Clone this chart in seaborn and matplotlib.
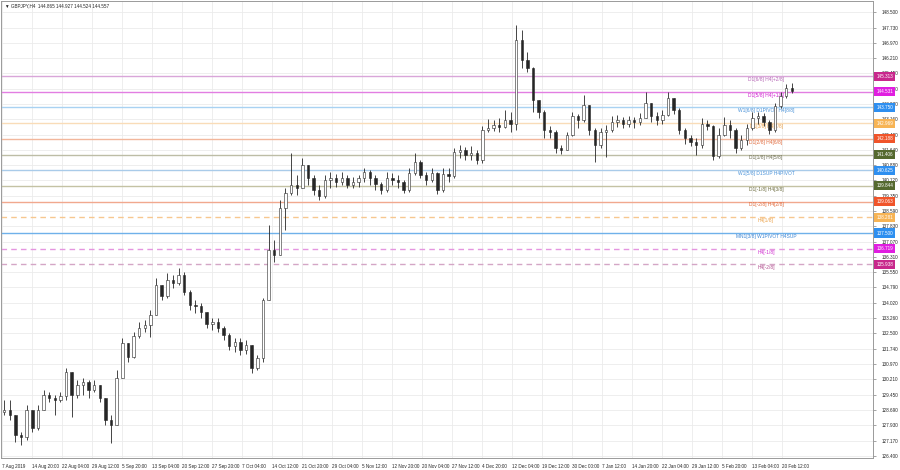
import numpy as np
import matplotlib
matplotlib.use("Agg")
import matplotlib.pyplot as plt
import matplotlib.transforms as mtransforms
import seaborn as sns


# chart header (last H4 bar OHLC)
title_text = "GBPJPY,H4  144.865 144.927 144.524 144.557"

# daily candles, 7 Aug 2019 .. 21 Feb 2020
first_open = 128.60
closes = [128.69, 128.44, 127.45, 127.35, 128.69, 127.80, 128.69, 129.44, 129.29, 129.19,
          129.39, 130.58, 129.44, 129.94, 130.09, 129.69, 129.94, 129.29, 128.19, 127.94,
          130.28, 132.03, 131.33, 132.37, 132.77, 132.92, 133.42, 134.91, 134.37, 135.16,
          135.01, 135.41, 134.56, 133.92, 133.87, 133.57, 132.97, 133.07, 132.77, 132.42,
          131.88, 132.08, 131.68, 131.93, 130.78, 131.28, 134.17, 136.65, 136.41, 138.75,
          139.49, 139.89, 139.74, 140.88, 140.24, 139.64, 139.34, 140.14, 140.24, 140.04,
          140.24, 139.89, 140.04, 140.24, 140.54, 140.24, 139.94, 139.64, 140.24, 140.14,
          140.04, 139.64, 140.49, 141.03, 140.39, 140.14, 140.49, 139.64, 140.44, 140.34,
          141.53, 141.63, 141.38, 141.48, 141.13, 142.63, 142.73, 142.88, 142.78, 143.12,
          142.93, 147.11, 146.11, 145.71, 144.12, 143.52, 142.63, 142.53, 141.73, 141.63,
          142.38, 143.32, 143.12, 143.87, 142.63, 141.88, 142.53, 142.63, 143.02, 143.12,
          142.93, 143.12, 143.02, 143.22, 143.97, 143.32, 143.12, 143.37, 144.22, 143.62,
          142.63, 142.23, 142.03, 141.88, 142.93, 142.83, 141.33, 142.38, 142.88, 142.63,
          141.73, 142.13, 142.73, 143.22, 143.32, 143.02, 142.63, 143.82, 144.32, 144.72,
          144.557]
highs = [129.19, 129.19, 128.44, 127.60, 128.94, 128.69, 128.94, 129.69, 129.59, 129.44,
         129.59, 130.78, 130.43, 130.18, 130.28, 130.18, 130.18, 129.94, 129.19, 128.44,
         130.68, 132.27, 132.03, 132.57, 133.07, 133.17, 133.67, 135.26, 134.91, 135.51,
         135.41, 135.76, 135.56, 134.66, 134.17, 134.02, 133.57, 133.27, 133.27, 132.87,
         132.52, 132.27, 132.27, 132.18, 131.93, 131.43, 134.27, 137.90, 137.15, 139.14,
         139.74, 141.48, 140.39, 141.23, 140.88, 140.39, 139.89, 140.39, 140.54, 140.44,
         140.54, 140.39, 140.29, 140.39, 140.74, 140.64, 140.39, 140.04, 140.54, 140.49,
         140.39, 140.14, 140.74, 141.48, 141.13, 140.54, 140.74, 140.54, 140.74, 140.74,
         141.73, 141.88, 141.78, 141.83, 141.63, 142.83, 143.17, 143.12, 143.22, 143.62,
         143.52, 147.85, 147.60, 146.51, 145.75, 143.87, 143.62, 142.83, 142.63, 141.88,
         142.53, 143.52, 143.42, 144.37, 143.87, 142.73, 142.73, 142.88, 143.32, 143.37,
         143.27, 143.32, 143.27, 143.47, 144.52, 143.97, 143.52, 143.62, 144.52, 144.22,
         143.72, 142.73, 142.38, 142.23, 143.22, 143.12, 142.88, 142.73, 143.27, 143.12,
         142.73, 142.38, 142.93, 143.52, 143.52, 143.47, 143.12, 143.97, 144.52, 144.92,
         144.97]
lows = [128.44, 128.19, 127.10, 126.95, 127.20, 127.60, 127.70, 128.69, 129.09, 128.44,
        129.09, 129.19, 128.34, 129.29, 129.44, 129.29, 129.59, 129.09, 127.94, 127.05,
        127.94, 130.28, 131.08, 131.28, 132.27, 132.57, 132.32, 133.42, 134.17, 134.27,
        134.76, 134.91, 134.42, 133.67, 133.52, 133.27, 132.77, 132.67, 132.57, 132.18,
        131.68, 131.58, 131.43, 131.48, 130.53, 130.68, 131.08, 134.17, 136.06, 136.65,
        137.65, 139.39, 139.39, 139.89, 139.89, 139.39, 139.14, 139.24, 139.74, 139.79,
        139.89, 139.74, 139.74, 139.79, 140.04, 139.89, 139.64, 139.44, 139.54, 139.89,
        139.74, 139.49, 139.54, 140.39, 140.24, 139.89, 140.04, 139.44, 139.54, 140.04,
        140.24, 141.23, 141.13, 141.13, 140.93, 140.98, 142.53, 142.58, 142.53, 142.73,
        142.53, 142.63, 145.71, 145.51, 143.52, 143.22, 142.23, 142.23, 141.48, 141.43,
        141.63, 142.33, 142.73, 143.02, 142.38, 141.03, 141.73, 141.28, 142.53, 142.78,
        142.73, 142.78, 142.73, 142.88, 143.22, 143.02, 142.88, 142.93, 143.32, 143.42,
        142.43, 141.93, 141.83, 141.38, 141.73, 142.63, 141.13, 141.23, 142.33, 142.23,
        141.48, 141.63, 141.88, 142.63, 142.93, 142.83, 142.43, 142.53, 143.72, 144.22,
        144.47]

date_labels = ["7 Aug 2019", "14 Aug 20:00", "22 Aug 04:00", "29 Aug 12:00", "5 Sep 20:00",
               "13 Sep 04:00", "20 Sep 12:00", "27 Sep 20:00", "7 Oct 04:00", "14 Oct 12:00",
               "21 Oct 20:00", "29 Oct 04:00", "5 Nov 12:00", "12 Nov 20:00", "20 Nov 04:00",
               "27 Nov 12:00", "4 Dec 20:00", "12 Dec 04:00", "19 Dec 12:00", "30 Dec 00:00",
               "7 Jan 12:00", "14 Jan 20:00", "22 Jan 04:00", "29 Jan 12:00", "5 Feb 20:00",
               "13 Feb 04:00", "20 Feb 12:00"]

price_ticks = [148.500, 147.730, 146.970, 146.210, 145.450, 144.690, 143.930, 143.160,
               142.400, 141.640, 140.880, 140.120, 139.350, 138.590, 137.830, 137.070,
               136.310, 135.550, 134.790, 134.020, 133.260, 132.500, 131.740, 130.970,
               130.210, 129.450, 128.690, 127.930, 127.170, 126.400]

# murrey levels
level_prices = [145.313, 144.531, 143.750, 142.969, 142.188, 141.406, 140.625,
                139.844, 139.063, 138.281, 137.500, 136.719, 135.938]
level_names = ["D1[6/8] H4[+2/8]", "D1[5/8] H4[+1/8]", "W1[6/8] D1PIVOT H4[8/8]",
               "D1[3/8] H4[7/8]", "D1[2/8] H4[6/8]", "D1[1/8] H4[5/8]",
               "W1[5/8] D1SUP H4PIVOT", "D1[-1/8] H4[3/8]", "D1[-2/8] H4[2/8]",
               "H4[1/8]", "MN1[3/8] W1PIVOT H4SUP", "H4[-1/8]", "H4[-2/8]"]

# styles for the levels
line_colors = ["#d9a6d9", "#e27ee2", "#a9d2f2", "#f9dcb8", "#f2b79c", "#bdbda6", "#a9cbe9",
               "#c4c2a4", "#f1a88e", "#f7c78f", "#6fb1ea", "#e596e0", "#d4a6c6"]
box_colors = ["#c8288c", "#e01ee0", "#2e8ff0", "#f7b455", "#f0542a", "#55692f", "#2e8ff0",
              "#55692f", "#f0542a", "#f7b455", "#2e8ff0", "#e01ee0", "#c8288c"]
text_colors = ["#b565b5", "#d020d0", "#4a92d8", "#eba24a", "#e0683a", "#6d6d50", "#4a92d8",
               "#6d6d40", "#e0683a", "#eba24a", "#3d86d4", "#d030d0", "#b04a8c"]
dashed = [False, False, False, False, False, False, False,
          False, False, True, False, True, True]

BARS_PER_CANDLE = 6   # one daily candle spans 6 H4 bars
BARS_PER_LABEL = 32

sns.set_style("white")
plt.rcParams["font.family"] = ["Liberation Sans", "DejaVu Sans"]

closes_a = np.array(closes)
opens = np.r_[first_open, closes_a[:-1]]
highs_a = np.maximum(np.array(highs), np.maximum(opens, closes_a))
lows_a = np.minimum(np.array(lows), np.minimum(opens, closes_a))
xpos = np.arange(len(closes)) * BARS_PER_CANDLE + 2.5
up = closes_a >= opens

fig = plt.figure(figsize=(9, 4.7), dpi=100)
ax = fig.add_axes([0.001, 12 / 470, 872 / 900, 457 / 470])
ax.set_xlim(-1, 929)
ax.set_ylim(126.30, 149.05)

# grid
xt = np.arange(len(date_labels)) * BARS_PER_LABEL
for v in xt:
    ax.axvline(v, color="#ebebeb", lw=0.6, zorder=0)
for v in price_ticks:
    ax.axhline(v, color="#ebebeb", lw=0.6, zorder=0)

# levels
trans = mtransforms.blended_transform_factory(ax.transAxes, ax.transData)
for p, name, lc, bc, tc, d in zip(level_prices, level_names, line_colors,
                                  box_colors, text_colors, dashed):
    ax.axhline(p, color=lc, lw=1.0, ls=(0, (4, 3)) if d else "-", zorder=1)
    ax.text(815, p - 0.04, name, ha="center", va="top", fontsize=3.5,
            color=tc, zorder=2)
    ax.text(1.004, p, f"{p:.3f}", transform=trans, ha="left", va="center",
            fontsize=3.3, color="white", clip_on=False, zorder=10,
            bbox=dict(boxstyle="square,pad=0.45", fc=bc, ec="none"))

# candles
ax.vlines(xpos, lows_a, highs_a, color="#262626", lw=0.6, zorder=3)
ax.bar(xpos, closes_a - opens, bottom=opens, width=2.6,
       color=np.where(up, "white", "#262626"), edgecolor="#262626",
       linewidth=0.4, zorder=4)

# axes
ax.yaxis.tick_right()
ax.set_yticks(price_ticks)
ax.set_yticklabels([f"{v:.3f}" for v in price_ticks])
ax.set_xticks(xt)
ax.set_xticklabels(date_labels, ha="left")
ax.tick_params(axis="both", labelsize=3.3, length=2, width=0.5,
               color="#808080", pad=2)
ax.tick_params(axis="y", pad=4)
for s in ax.spines.values():
    s.set_color("#9a9a9a")
    s.set_linewidth(0.7)

fig.text(0.006, 0.992, "\u25bc " + title_text, fontsize=3.3, va="top", ha="left")

fig.savefig("out.png", dpi=100)
